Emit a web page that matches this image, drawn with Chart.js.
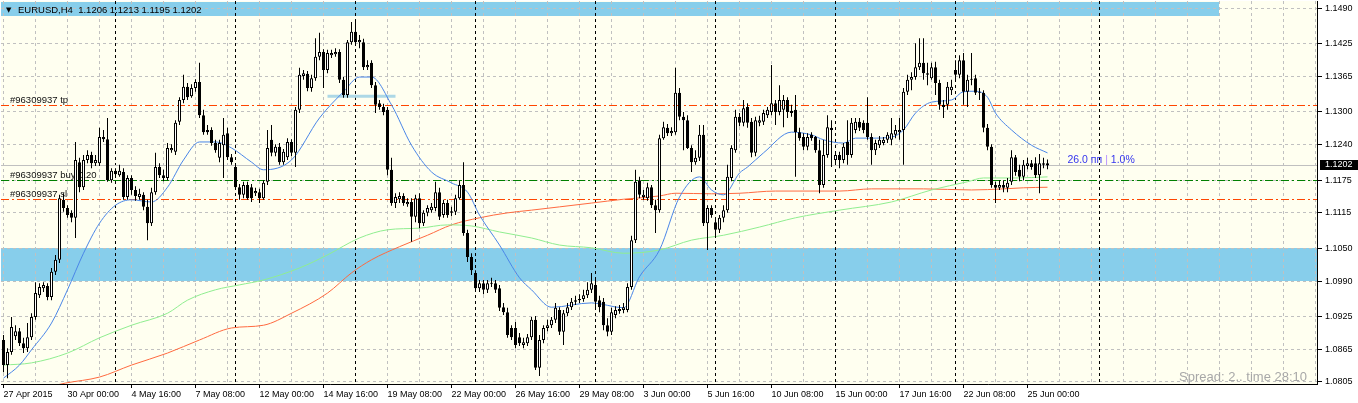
<!DOCTYPE html>
<html><head><meta charset="utf-8">
<script src="https://cdn.jsdelivr.net/npm/chart.js@4.4.1/dist/chart.umd.min.js"></script>
<style>html,body{margin:0;padding:0;background:#fff;}canvas{display:block;}</style>
</head><body>
<canvas id="c" width="1358" height="403"></canvas>
<script>
// ---- data (EURUSD H4, bar 0 = 27 Apr 2015 08:00) ----
const symbolName = 'EURUSD,H4';
const opens = [1.0882,1.0836,1.0860,1.0889,1.0898,1.0876,1.0867,1.0887,1.0924,1.0964,
1.0977,1.0981,1.0961,1.1007,1.1029,1.1139,1.1124,1.1115,1.1106,1.1208,
1.1162,1.1212,1.1221,1.1206,1.1206,1.1254,1.1250,1.1175,1.1192,1.1184,
1.1190,1.1144,1.1179,1.1157,1.1144,1.1148,1.1126,1.1096,1.1153,1.1199,
1.1184,1.1179,1.1230,1.1227,1.1282,1.1322,1.1346,1.1329,1.1344,1.1355,
1.1294,1.1267,1.1267,1.1243,1.1216,1.1239,1.1261,1.1217,1.1199,1.1162,
1.1148,1.1166,1.1162,1.1151,1.1153,1.1142,1.1172,1.1249,1.1225,1.1236,
1.1208,1.1217,1.1245,1.1225,1.1304,1.1366,1.1370,1.1344,1.1362,1.1401,
1.1410,1.1377,1.1404,1.1406,1.1410,1.1359,1.1331,1.1428,1.1447,1.1428,
1.1428,1.1382,1.1390,1.1349,1.1316,1.1309,1.1304,1.1194,1.1133,1.1140,
1.1146,1.1131,1.1135,1.1108,1.1142,1.1096,1.1115,1.1120,1.1124,1.1153,
1.1111,1.1133,1.1115,1.1117,1.1142,1.1166,1.1078,1.1034,1.1005,1.0977,
1.0986,1.0974,1.0985,1.0986,1.0977,1.0942,1.0933,1.0904,1.0904,1.0887,
1.0873,1.0876,1.0887,1.0919,1.0831,1.0882,1.0904,1.0909,1.0919,1.0937,
1.0897,1.0931,1.0942,1.0952,1.0955,1.0957,1.0964,1.0974,1.0983,1.0955,
1.0952,1.0909,1.0897,1.0928,1.0935,1.0937,1.0937,1.0979,1.1065,1.1175,
1.1144,1.1142,1.1162,1.1129,1.1120,1.1252,1.1271,1.1261,1.1263,1.1335,
1.1291,1.1285,1.1234,1.1208,1.1216,1.1258,1.1096,1.1124,1.1098,1.1084,
1.1106,1.1120,1.1179,1.1230,1.1291,1.1280,1.1309,1.1282,1.1225,1.1280,
1.1282,1.1294,1.1300,1.1316,1.1300,1.1304,1.1322,1.1302,1.1304,1.1263,
1.1254,1.1236,1.1258,1.1254,1.1230,1.1166,1.1221,1.1271,1.1212,1.1221,
1.1212,1.1245,1.1221,1.1267,1.1282,1.1280,1.1280,1.1254,1.1230,1.1239,
1.1243,1.1249,1.1249,1.1258,1.1263,1.1267,1.1337,1.1359,1.1364,1.1382,
1.1390,1.1371,1.1362,1.1382,1.1353,1.1313,1.1313,1.1340,1.1377,1.1368,
1.1395,1.1337,1.1360,1.1362,1.1337,1.1335,1.1271,1.1236,1.1166,1.1161,
1.1166,1.1161,1.1172,1.1217,1.1194,1.1181,1.1201,1.1206,1.1206,1.1184,
1.1206,1.1206];
const highs = [1.0891,1.0867,1.0924,1.0909,1.0904,1.0886,1.0913,1.0931,1.0988,1.0986,
1.0988,1.0986,1.1014,1.1038,1.1148,1.1151,1.1129,1.1120,1.1245,1.1216,
1.1221,1.1230,1.1227,1.1221,1.1271,1.1267,1.1289,1.1197,1.1197,1.1203,
1.1197,1.1184,1.1184,1.1164,1.1159,1.1153,1.1139,1.1161,1.1225,1.1206,
1.1194,1.1243,1.1241,1.1285,1.1327,1.1368,1.1353,1.1351,1.1360,1.1390,
1.1304,1.1276,1.1272,1.1249,1.1249,1.1289,1.1271,1.1223,1.1206,1.1168,
1.1172,1.1172,1.1168,1.1161,1.1159,1.1175,1.1267,1.1276,1.1241,1.1243,
1.1232,1.1252,1.1250,1.1309,1.1381,1.1377,1.1375,1.1368,1.1435,1.1445,
1.1415,1.1414,1.1414,1.1417,1.1415,1.1364,1.1432,1.1465,1.1465,1.1441,
1.1434,1.1395,1.1395,1.1355,1.1322,1.1315,1.1309,1.1216,1.1151,1.1153,
1.1151,1.1142,1.1142,1.1148,1.1151,1.1120,1.1129,1.1133,1.1172,1.1161,
1.1139,1.1139,1.1126,1.1148,1.1175,1.1208,1.1084,1.1041,1.1010,1.0992,
1.0992,1.0992,1.0996,1.0992,1.0983,1.0950,1.0941,1.0909,1.0915,1.0895,
1.0886,1.0893,1.0924,1.0926,1.0891,1.0909,1.0919,1.0924,1.0950,1.0942,
1.0937,1.0950,1.0959,1.0963,1.0966,1.0974,1.0988,1.1005,1.0992,1.0963,
1.0959,1.0922,1.0941,1.0944,1.0946,1.0950,1.0986,1.1073,1.1194,1.1181,
1.1157,1.1170,1.1166,1.1139,1.1258,1.1282,1.1278,1.1272,1.1381,1.1344,
1.1300,1.1294,1.1239,1.1230,1.1276,1.1276,1.1129,1.1129,1.1106,1.1111,
1.1129,1.1203,1.1239,1.1304,1.1298,1.1322,1.1316,1.1289,1.1291,1.1293,
1.1304,1.1309,1.1386,1.1322,1.1349,1.1331,1.1327,1.1313,1.1331,1.1271,
1.1261,1.1261,1.1263,1.1256,1.1249,1.1249,1.1294,1.1285,1.1227,1.1227,
1.1243,1.1285,1.1289,1.1289,1.1289,1.1285,1.1327,1.1261,1.1249,1.1256,
1.1254,1.1263,1.1289,1.1276,1.1289,1.1344,1.1368,1.1373,1.1426,1.1435,
1.1435,1.1390,1.1390,1.1392,1.1359,1.1322,1.1355,1.1359,1.1395,1.1404,
1.1408,1.1368,1.1408,1.1368,1.1344,1.1340,1.1278,1.1241,1.1172,1.1175,
1.1175,1.1179,1.1230,1.1221,1.1203,1.1212,1.1216,1.1212,1.1217,1.1223,
1.1216,1.1213];
const lows = [1.0823,1.0812,1.0855,1.0882,1.0871,1.0858,1.0860,1.0882,1.0919,1.0959,
1.0970,1.0955,1.0955,1.1001,1.1023,1.1117,1.1106,1.1098,1.1069,1.1153,
1.1157,1.1206,1.1197,1.1201,1.1201,1.1245,1.1172,1.1170,1.1183,1.1181,
1.1139,1.1139,1.1148,1.1137,1.1139,1.1120,1.1065,1.1091,1.1148,1.1179,
1.1173,1.1175,1.1225,1.1221,1.1276,1.1316,1.1322,1.1326,1.1337,1.1289,
1.1258,1.1258,1.1238,1.1225,1.1208,1.1179,1.1212,1.1203,1.1157,1.1139,
1.1142,1.1139,1.1135,1.1146,1.1133,1.1139,1.1166,1.1219,1.1219,1.1203,
1.1203,1.1212,1.1219,1.1199,1.1298,1.1359,1.1338,1.1337,1.1357,1.1395,
1.1344,1.1371,1.1399,1.1401,1.1353,1.1326,1.1326,1.1423,1.1423,1.1417,
1.1377,1.1377,1.1344,1.1298,1.1304,1.1294,1.1184,1.1128,1.1124,1.1133,
1.1128,1.1126,1.1062,1.1098,1.1087,1.1091,1.1109,1.1115,1.1118,1.1102,
1.1106,1.1106,1.1109,1.1111,1.1139,1.1073,1.1025,1.1001,1.0970,1.0970,
1.0966,1.0968,1.0979,1.0968,1.0935,1.0928,1.0886,1.0882,1.0867,1.0871,
1.0867,1.0871,1.0882,1.0827,1.0816,1.0876,1.0898,1.0904,1.0913,1.0891,
1.0873,1.0926,1.0937,1.0946,1.0950,1.0952,1.0959,1.0968,1.0941,1.0933,
1.0900,1.0889,1.0891,1.0922,1.0930,1.0931,1.0933,1.0974,1.1060,1.1142,
1.1139,1.1137,1.1124,1.1078,1.1115,1.1249,1.1256,1.1256,1.1258,1.1285,
1.1230,1.1232,1.1190,1.1203,1.1210,1.1091,1.1047,1.1106,1.1069,1.1078,
1.1098,1.1115,1.1173,1.1225,1.1274,1.1274,1.1271,1.1217,1.1219,1.1274,
1.1276,1.1289,1.1294,1.1276,1.1294,1.1272,1.1289,1.1291,1.1181,1.1247,
1.1230,1.1230,1.1247,1.1225,1.1151,1.1161,1.1216,1.1199,1.1206,1.1197,
1.1206,1.1203,1.1216,1.1261,1.1265,1.1261,1.1249,1.1203,1.1221,1.1234,
1.1239,1.1243,1.1239,1.1252,1.1249,1.1203,1.1331,1.1340,1.1359,1.1377,
1.1359,1.1349,1.1359,1.1331,1.1304,1.1289,1.1304,1.1331,1.1359,1.1362,
1.1313,1.1309,1.1349,1.1331,1.1322,1.1263,1.1230,1.1161,1.1133,1.1157,
1.1153,1.1153,1.1166,1.1183,1.1173,1.1175,1.1195,1.1194,1.1179,1.1151,
1.1197,1.1195];
const closes = [1.0836,1.0860,1.0906,1.0898,1.0876,1.0867,1.0887,1.0924,1.0968,1.0979,
1.0983,1.0961,1.1007,1.1029,1.1142,1.1124,1.1111,1.1106,1.1212,1.1162,
1.1212,1.1221,1.1206,1.1212,1.1254,1.1250,1.1175,1.1192,1.1186,1.1192,
1.1144,1.1179,1.1157,1.1146,1.1150,1.1126,1.1096,1.1153,1.1199,1.1184,
1.1179,1.1234,1.1234,1.1280,1.1322,1.1346,1.1327,1.1344,1.1355,1.1294,
1.1263,1.1263,1.1243,1.1230,1.1243,1.1258,1.1217,1.1208,1.1162,1.1148,
1.1166,1.1142,1.1142,1.1155,1.1142,1.1170,1.1234,1.1225,1.1236,1.1208,
1.1227,1.1245,1.1225,1.1304,1.1368,1.1371,1.1344,1.1362,1.1401,1.1410,
1.1377,1.1408,1.1408,1.1410,1.1359,1.1331,1.1428,1.1447,1.1428,1.1432,
1.1382,1.1386,1.1349,1.1313,1.1309,1.1300,1.1194,1.1133,1.1144,1.1146,
1.1133,1.1135,1.1108,1.1142,1.1096,1.1115,1.1124,1.1126,1.1153,1.1108,
1.1133,1.1111,1.1118,1.1142,1.1166,1.1078,1.1034,1.1010,1.0977,1.0986,
1.0974,1.0986,1.0986,1.0974,1.0941,1.0933,1.0891,1.0887,1.0873,1.0876,
1.0878,1.0887,1.0919,1.0831,1.0882,1.0904,1.0909,1.0919,1.0941,1.0897,
1.0931,1.0942,1.0952,1.0955,1.0957,1.0964,1.0974,1.0986,1.0952,1.0942,
1.0909,1.0897,1.0933,1.0937,1.0939,1.0942,1.0979,1.1065,1.1172,1.1148,
1.1148,1.1162,1.1129,1.1120,1.1252,1.1272,1.1261,1.1265,1.1335,1.1291,
1.1285,1.1234,1.1208,1.1216,1.1258,1.1096,1.1124,1.1111,1.1084,1.1106,
1.1120,1.1181,1.1234,1.1291,1.1280,1.1307,1.1280,1.1225,1.1285,1.1285,
1.1298,1.1304,1.1316,1.1300,1.1322,1.1322,1.1300,1.1298,1.1263,1.1252,
1.1236,1.1254,1.1252,1.1230,1.1166,1.1221,1.1272,1.1267,1.1221,1.1212,
1.1236,1.1221,1.1280,1.1282,1.1271,1.1267,1.1254,1.1230,1.1243,1.1249,
1.1249,1.1258,1.1261,1.1267,1.1267,1.1337,1.1359,1.1364,1.1382,1.1390,
1.1371,1.1368,1.1382,1.1353,1.1313,1.1309,1.1346,1.1346,1.1368,1.1395,
1.1337,1.1359,1.1359,1.1335,1.1335,1.1271,1.1236,1.1166,1.1161,1.1166,
1.1161,1.1170,1.1217,1.1190,1.1181,1.1203,1.1206,1.1199,1.1184,1.1206,
1.1203,1.1202];

// moving averages (bar index, price)
const maFastBars = [0,4,7,12,16,20,24,28,32,37,41,45,49,53,57,62,65,72,79,85,89,92,97,102,107,112,116,119,124,129,132,137,147,155,159,164,169,174,177,180,184,186,190,197,202,205,210,213,217,222,225,228,232,237,240,243,246,248,252,257,261];
const maFastValues = [1.0812,1.0836,1.0864,1.0913,1.0974,1.1041,1.1096,1.1129,1.1139,1.1135,1.1162,1.1212,1.1245,1.1245,1.1234,1.1208,1.1194,1.1212,1.1289,1.1337,1.1364,1.1364,1.1313,1.1239,1.1190,1.1170,1.1153,1.1111,1.1056,1.0996,1.0974,1.0942,1.0950,1.0941,1.0998,1.1047,1.1144,1.1181,1.1157,1.1148,1.1188,1.1199,1.1225,1.1263,1.1258,1.1249,1.1243,1.1252,1.1252,1.1254,1.1267,1.1298,1.1318,1.1322,1.1337,1.1338,1.1327,1.1298,1.1267,1.1239,1.1225];
const maSlowBars = [0,7,16,24,32,41,46,53,59,65,74,81,89,96,104,111,117,124,132,139,147,155,164,172,180,189,198,209,222,232,241,245,253,261];
const maSlowValues = [1.0836,1.0840,1.0858,1.0886,1.0909,1.0931,1.0955,1.0974,1.0983,1.0992,1.1014,1.1038,1.1069,1.1084,1.1087,1.1093,1.1091,1.1080,1.1069,1.1056,1.1051,1.1041,1.1047,1.1065,1.1074,1.1089,1.1106,1.1120,1.1135,1.1157,1.1172,1.1179,1.1179,1.1181];
const maLongBars = [10,15.5,24,32,41,49,57,65,72,81,87,92,99,106,112,119,126,132,139,147,155,164,168,177,184,193,209,217,230,242,250,255,261];
const maLongValues = [1.0794,1.0803,1.0814,1.0836,1.0858,1.0882,1.0904,1.0909,1.0931,1.0968,1.1005,1.1029,1.1053,1.1074,1.1093,1.1106,1.1115,1.1120,1.1126,1.1133,1.1140,1.1146,1.1151,1.1150,1.1151,1.1155,1.1155,1.1159,1.1159,1.1157,1.1159,1.1161,1.1162];

// chart objects
const tpPrice = 1.1312, buyPrice = 1.1175, slPrice = 1.1140, bidPrice = 1.1202;
const orderLabels = ['#96309937 tp', '#96309937 buy 0.20', '#96309937 sl'];
const orderPrices = [tpPrice, buyPrice, slPrice];
const orderColors = ['#ff4500', '#008000', '#ff4500'];
const trendBars = [81, 98];
const trendPrice = 1.1329;
const zoneHigh = [1.1502, 1.1050];
const zoneLow = [1.1476, 1.0990];
const zoneFromBar = [-2, -2];
const zoneToBar = [303.75, 340];
const separatorBars = [28, 58, 88, 118, 148, 178, 208, 238, 274];
const timeLabels = ['27 Apr 2015','30 Apr 00:00','4 May 16:00','7 May 08:00','12 May 00:00','14 May 16:00','19 May 08:00','22 May 00:00','26 May 16:00','29 May 08:00','3 Jun 00:00','5 Jun 16:00','10 Jun 08:00','15 Jun 00:00','17 Jun 16:00','22 Jun 08:00','25 Jun 00:00'];
const labelStep = 16, gridStep = 8;
const priceTicks = [1.1490,1.1425,1.1365,1.1300,1.1240,1.1175,1.1115,1.1050,1.0990,1.0925,1.0865,1.0805];
const profitText = ['26.0 пп ', '|', ' 1.0%'];
const spreadText = 'Spread: 2.. time 28:10';

const X_MIN = -0.625, X_MAX = 328.375, Y_MIN = 1.08013, Y_MAX = 1.15034;
const FONT = "'Liberation Sans', Arial, sans-serif";

const N = closes.length;
const bodyData = [], wickData = [], bodyColors = [];
for (let i = 0; i < N; i++) {
  const o = opens[i], c = closes[i];
  bodyData.push({x: i, y: [Math.min(o, c), Math.max(o, c)]});
  wickData.push({x: i, y: [lows[i], highs[i]]});
  bodyColors.push(c > o ? '#ffffff' : '#000000');
}
const pts = (xs, ys) => xs.map((x, i) => ({x, y: ys[i]}));
const lineDs = (data, color, width, dash, order) => ({
  type: 'line', data, borderColor: color, borderWidth: width, borderDash: dash,
  pointRadius: 0, fill: false, order, cubicInterpolationMode: 'monotone'
});

const decor = {
  id: 'decor',
  beforeDraw(chart) {
    const {ctx, chartArea: a, scales: {x, y}} = chart;
    ctx.save();
    ctx.fillStyle = '#ffffff';
    ctx.fillRect(0, 0, chart.width, chart.height);
    ctx.fillStyle = '#fffff0';
    ctx.fillRect(a.left, a.top, a.right - a.left, a.bottom - a.top);
    ctx.beginPath(); ctx.rect(a.left, a.top, a.right - a.left, a.bottom - a.top); ctx.clip();
    ctx.fillStyle = '#87ceeb';
    for (let k = 0; k < zoneHigh.length; k++) {
      const x1 = Math.round(x.getPixelForValue(zoneFromBar[k]));
      const x2 = Math.round(x.getPixelForValue(zoneToBar[k]));
      const y1 = Math.round(y.getPixelForValue(zoneHigh[k]));
      const y2 = Math.round(y.getPixelForValue(zoneLow[k]));
      ctx.fillRect(x1, y1, x2 - x1, y2 - y1);
    }
    ctx.restore();
  },
  beforeDatasetsDraw(chart) {
    const {ctx, chartArea: a, scales: {x, y}} = chart;
    ctx.save();
    ctx.beginPath(); ctx.rect(a.left, a.top, a.right - a.left, a.bottom - a.top); ctx.clip();
    ctx.lineWidth = 1;
    // period separators
    ctx.strokeStyle = '#000000'; ctx.setLineDash([3, 3]);
    separatorBars.forEach(b => {
      const px = Math.floor(x.getPixelForValue(b)) + 0.5;
      ctx.beginPath(); ctx.moveTo(px, a.top); ctx.lineTo(px, a.bottom); ctx.stroke();
    });
    // bid line
    ctx.setLineDash([]); ctx.strokeStyle = '#c0c0c0';
    const byp = Math.round(y.getPixelForValue(bidPrice)) + 0.5;
    ctx.beginPath(); ctx.moveTo(a.left, byp); ctx.lineTo(a.right, byp); ctx.stroke();
    // order lines (dash-dot)
    ctx.setLineDash([8, 3, 2, 3]);
    orderPrices.forEach((p, k) => {
      const py = Math.round(y.getPixelForValue(p)) + 0.5;
      ctx.strokeStyle = orderColors[k];
      ctx.beginPath(); ctx.moveTo(a.left, py); ctx.lineTo(a.right, py); ctx.stroke();
    });
    ctx.setLineDash([]);
    ctx.font = '9.5px ' + FONT; ctx.fillStyle = '#101010'; ctx.textBaseline = 'alphabetic'; ctx.textAlign = 'left';
    orderLabels.forEach((t, k) => ctx.fillText(t, a.left + 9, Math.round(y.getPixelForValue(orderPrices[k])) - 2));
    ctx.restore();
  },
  afterDraw(chart) {
    const {ctx, chartArea: a, scales: {x, y}} = chart;
    ctx.save();
    ctx.fillStyle = '#000000';
    ctx.textBaseline = 'middle'; ctx.textAlign = 'left';
    ctx.font = "7px 'DejaVu Sans'";
    ctx.fillText('▼', 6, 10.5);
    ctx.font = '9.5px ' + FONT;
    const f = v => v.toFixed(4);
    ctx.fillText(`${symbolName}  ${f(opens[N-1])} ${f(highs[N-1])} ${f(lows[N-1])} ${f(closes[N-1])}`, 18, 10.5);
    const by = y.getPixelForValue(bidPrice);
    let tx = x.getPixelForValue(266);
    ctx.font = '10.5px ' + FONT; ctx.textBaseline = 'alphabetic';
    const cols = ['#3535ee', '#b48cff', '#3535ee'];
    profitText.forEach((t, k) => { ctx.fillStyle = cols[k]; ctx.fillText(t, tx, by - 2.5); tx += ctx.measureText(t).width; });
    ctx.font = '13px ' + FONT; ctx.fillStyle = '#a8a8a8'; ctx.textAlign = 'right';
    ctx.fillText(spreadText, a.right - 10, a.bottom - 3);
    ctx.fillStyle = '#000000';
    ctx.fillRect(a.right + 3, Math.round(by) - 5, chart.width - a.right - 3, 10);
    ctx.fillStyle = '#ffffff'; ctx.font = '9px ' + FONT; ctx.textAlign = 'left'; ctx.textBaseline = 'middle';
    ctx.fillText(f(bidPrice), a.right + 8, Math.round(by));
    ctx.restore();
  }
};

new Chart(document.getElementById('c'), {
  type: 'bar',
  data: {
    datasets: [
      {type: 'bar', data: bodyData, backgroundColor: bodyColors, borderColor: '#000000', borderWidth: 1,
       borderSkipped: false, barThickness: 3, grouped: false, inflateAmount: 0, minBarLength: 1, order: 0},
      {type: 'bar', data: wickData, backgroundColor: '#000000', borderWidth: 0,
       barThickness: 1, grouped: false, inflateAmount: 0, order: 1},
      lineDs(pts(maFastBars, maFastValues), '#4a86e8', 1, [], 2),
      lineDs(pts(maSlowBars, maSlowValues), '#90ee90', 1, [], 3),
      lineDs(pts(maLongBars, maLongValues), '#ff6a40', 1, [], 4),
      lineDs(pts(trendBars, [trendPrice, trendPrice]), '#add8e6', 3, [], 5)
    ]
  },
  options: {
    responsive: false, devicePixelRatio: 1, animation: false, events: [],
    layout: {padding: {left: 1, top: 1, right: 0, bottom: 0}},
    plugins: {legend: {display: false}, tooltip: {enabled: false}},
    scales: {
      x: {
        type: 'linear', min: X_MIN, max: X_MAX, offset: false,
        afterBuildTicks: s => { const t = []; for (let v = 0; v <= X_MAX; v += gridStep) t.push({value: v}); s.ticks = t; },
        afterFit: s => { s.height = 19; s.paddingLeft = 0; s.paddingRight = 0; },
        grid: {offset: false, color: '#c0c0c0', lineWidth: 1, drawTicks: true, tickLength: 4,
               tickColor: c => (c.tick && c.tick.value % labelStep === 0 && c.tick.value / labelStep < timeLabels.length) ? '#000000' : 'rgba(0,0,0,0)'},
        border: {display: true, color: '#000000', width: 1, dash: [3, 3]},
        ticks: {autoSkip: false, maxRotation: 0, minRotation: 0, align: 'start', padding: 1, color: '#000000',
                font: {family: FONT, size: 9},
                callback: v => (v % labelStep === 0 && v / labelStep < timeLabels.length) ? timeLabels[v / labelStep] : ''}
      },
      y: {
        type: 'linear', position: 'right', min: Y_MIN, max: Y_MAX, beginAtZero: false,
        afterBuildTicks: s => { s.ticks = priceTicks.map(v => ({value: v})); },
        afterFit: s => { s.width = 41; s.paddingTop = 0; s.paddingBottom = 0; },
        grid: {color: '#c0c0c0', lineWidth: 1, drawTicks: true, tickLength: 5, tickColor: '#000000'},
        border: {display: true, color: '#000000', width: 1, dash: [3, 3]},
        ticks: {padding: 3, color: '#000000', font: {family: FONT, size: 9}, callback: v => v.toFixed(4)}
      }
    }
  },
  plugins: [decor]
});
</script>
</body></html>
